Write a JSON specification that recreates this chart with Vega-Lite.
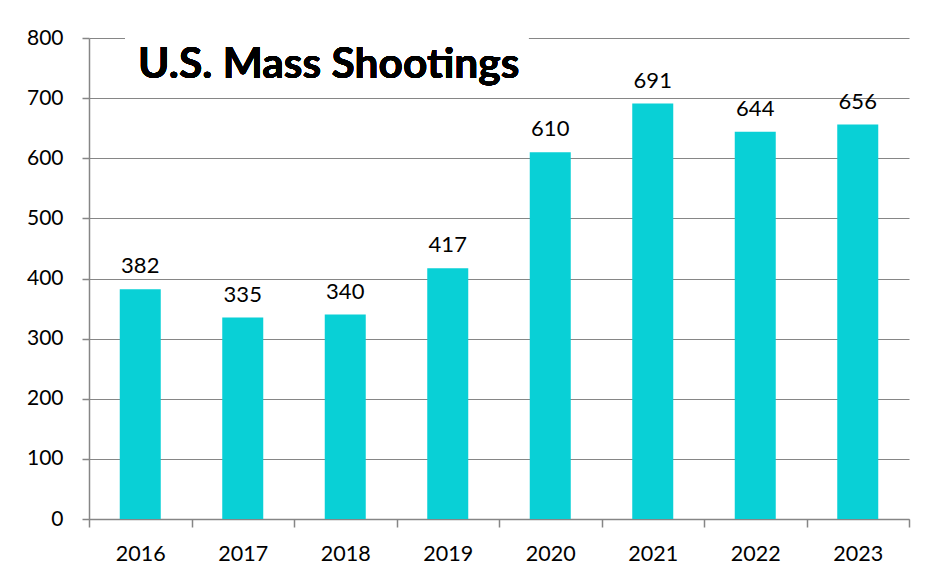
{
  "$schema": "https://vega.github.io/schema/vega-lite/v6.json",
  "width": 820,
  "height": 481,
  "autosize": "none",
  "padding": {"left": 89, "top": 38, "right": 27, "bottom": 54},
  "background": "white",
  "data": {"values": [
    {"year": "2016", "count": 382},
    {"year": "2017", "count": 335},
    {"year": "2018", "count": 340},
    {"year": "2019", "count": 417},
    {"year": "2020", "count": 610},
    {"year": "2021", "count": 691},
    {"year": "2022", "count": 644},
    {"year": "2023", "count": 656}
  ]},
  "encoding": {
    "x": {
      "field": "year", "type": "ordinal", "title": null,
      "scale": {"paddingInner": 0, "paddingOuter": 0},
      "axis": {
        "labelAngle": 0, "tickBand": "extent", "tickSize": 8, "labelPadding": 16,
        "domainColor": "#868686", "tickColor": "#868686", "domainWidth": 1.5, "tickWidth": 1.5,
        "labelFont": "Lato", "labelFontSize": 21.5, "labelColor": "#000000", "grid": false
      }
    },
    "y": {
      "field": "count", "type": "quantitative", "title": null,
      "scale": {"domain": [0, 800], "nice": false},
      "axis": {
        "values": [0, 100, 200, 300, 400, 500, 600, 700, 800],
        "tickSize": 7, "labelPadding": 19,
        "domainColor": "#868686", "tickColor": "#868686", "domainWidth": 1.5, "tickWidth": 1.5,
        "gridColor": "#868686", "gridWidth": 1.2,
        "labelFont": "Lato", "labelFontSize": 21, "labelColor": "#000000"
      }
    }
  },
  "layer": [
    {"mark": {"type": "bar", "color": "#09D0D6", "width": {"band": 0.4}}},
    {
      "mark": {"type": "text", "baseline": "alphabetic", "dy": -16, "font": "Lato", "fontSize": 22, "color": "#000000"},
      "encoding": {"text": {"field": "count", "type": "quantitative"}}
    },
    {
      "mark": {"type": "rect", "color": "white", "xOffset": 36, "x2Offset": -22},
      "encoding": {
        "x": {"datum": "2016", "bandPosition": 0},
        "x2": {"datum": "2020"},
        "y": {"datum": 800},
        "y2": {"datum": 770}
      }
    },
    {
      "mark": {"type": "text", "text": "U.S. Mass Shootings", "align": "left", "baseline": "alphabetic", "dx": 49, "dy": 40, "font": "Lato", "fontWeight": "bold", "fontSize": 42.5, "color": "#000000"},
      "encoding": {
        "x": {"datum": "2016", "bandPosition": 0},
        "y": {"datum": 800}
      }
    }
  ],
  "config": {"view": {"stroke": null}}
}
